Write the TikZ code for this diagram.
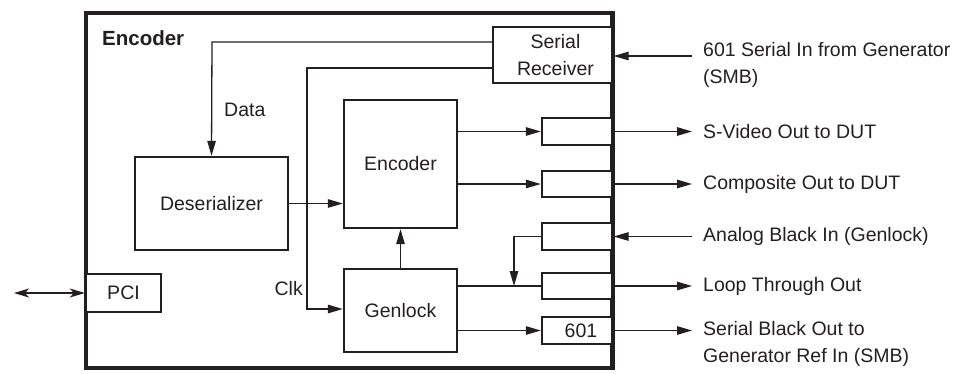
\documentclass[tikz,border=0pt]{standalone}
\usepackage{fontspec}
\setmainfont{Liberation Sans}
\usetikzlibrary{arrows.meta,calc}
\definecolor{ink}{RGB}{35,31,32}
\tikzset{
  x=1pt,y=1pt,
  every node/.style={font=\fontsize{19.5}{27}\selectfont, text=ink},
  blk/.style={draw=ink, line width=2.4pt, fill=white, inner sep=0pt, align=center},
  conn/.style={draw=ink, line width=1.3pt},
  arr/.style={conn, -{Triangle[length=15pt,width=8.5pt]}},
  dblarr/.style={conn, {Stealth[length=15pt,width=9pt,inset=4pt]}-{Stealth[length=15pt,width=9pt,inset=4pt]}},
  lbl/.style={inner sep=0pt, anchor=west, align=left},
}
\begin{document}
\begin{tikzpicture}
\useasboundingbox (0,0) rectangle (959,-373);
% outer encoder box
\node[draw=ink, line width=3.3pt, minimum width=526pt, minimum height=355pt, inner sep=0pt] (outer) at (349,-190.5) {};
\node[inner sep=0pt, anchor=west, font=\fontsize{20.5}{24}\selectfont\bfseries] (title) at (102,-38) {Encoder};

% blocks
\node[blk, minimum width=119pt, minimum height=56pt] (sr) at (552.5,-55) {\hspace*{6pt}Serial\\\hspace*{6pt}Receiver};
\node[blk, minimum width=153pt, minimum height=93pt] (des) at (211.5,-203.5) {Deserializer};
\node[blk, minimum width=113pt, minimum height=128pt] (enc) at (400.5,-164) {Encoder};
\node[blk, minimum width=113pt, minimum height=83pt] (gen) at (400.5,-310.5) {Genlock};
\node[blk, minimum width=75pt, minimum height=38pt] (pci) at (123.5,-293) {PCI};

% connector boxes
\node[blk, minimum width=70pt, minimum height=27pt] (c1) at (577,-131.5) {};
\node[blk, minimum width=70pt, minimum height=26pt] (c2) at (577,-184) {};
\node[blk, minimum width=70pt, minimum height=27pt] (c3) at (577,-236.5) {};
\node[blk, minimum width=70pt, minimum height=26pt] (c4) at (577,-286) {};
\node[blk, minimum width=70pt, minimum height=27pt] (c5) at (577,-330.5) {\hspace*{8pt}601};

% redraw right border over connector boxes
\draw[draw=ink, line width=3.3pt] (outer.north east) -- (outer.south east);

% internal connectors
\coordinate (dataturn) at (212,-42);
\coordinate (clkturn) at (307,-68);
\coordinate (clkdown) at (307,-309);
\coordinate (junc) at (514,-286);
\draw[arr] (sr.west |- dataturn) -- (dataturn) -- (des.north);
\draw[arr] (sr.west |- clkturn) -- (clkturn) -- (clkdown) -- (clkdown -| gen.west);
\draw[arr] (des.east) -- (des.east -| enc.west);
\draw[arr] (gen.north) -- (enc.south);
\draw[arr] (enc.east |- c1.west) -- (c1.west);
\draw[arr] (enc.east |- c2.west) -- (c2.west);
\draw[conn] (gen.east |- c4.west) -- (c4.west);
\draw[arr] (c3.west) -| (junc);
\draw[arr] (gen.east |- c5.west) -- (c5.west);

\node[lbl] (data) at (224,-110) {Data};
\node[inner sep=0pt, anchor=east] (clk) at (303,-289) {Clk};

% external connectors
\coordinate (i1) at (692,-56);
\coordinate (i3) at (692,-236.5);
\coordinate (o1) at (692,-131.5);
\coordinate (o2) at (692,-184);
\coordinate (o4) at (692,-286);
\coordinate (o5) at (692,-330.5);
\coordinate (pcil) at (14,-293);
\draw[arr] (i1) -- (i1 -| outer.east);
\draw[arr] (i3) -- (i3 -| outer.east);
\draw[arr] (c1.east) -- (o1);
\draw[arr] (c2.east) -- (o2);
\draw[arr] (c4.east) -- (o4);
\draw[arr] (c5.east) -- (o5);
\draw[dblarr] (pcil) -- (pci.west);

% external labels
\node[lbl, anchor=north west] (l1) at (703,-42) {601 Serial In from Generator\\(SMB)};
\node[lbl] (l2) at (703,-131.5) {S-Video Out to DUT};
\node[lbl] (l3) at (703,-184) {Composite Out to DUT};
\node[lbl] (l4) at (703,-236.5) {Analog Black In (Genlock)};
\node[lbl] (l5) at (703,-286) {Loop Through Out};
\node[lbl, anchor=north west] (l6) at (703,-321) {Serial Black Out to\\Generator Ref In (SMB)};
\end{tikzpicture}
\end{document}
